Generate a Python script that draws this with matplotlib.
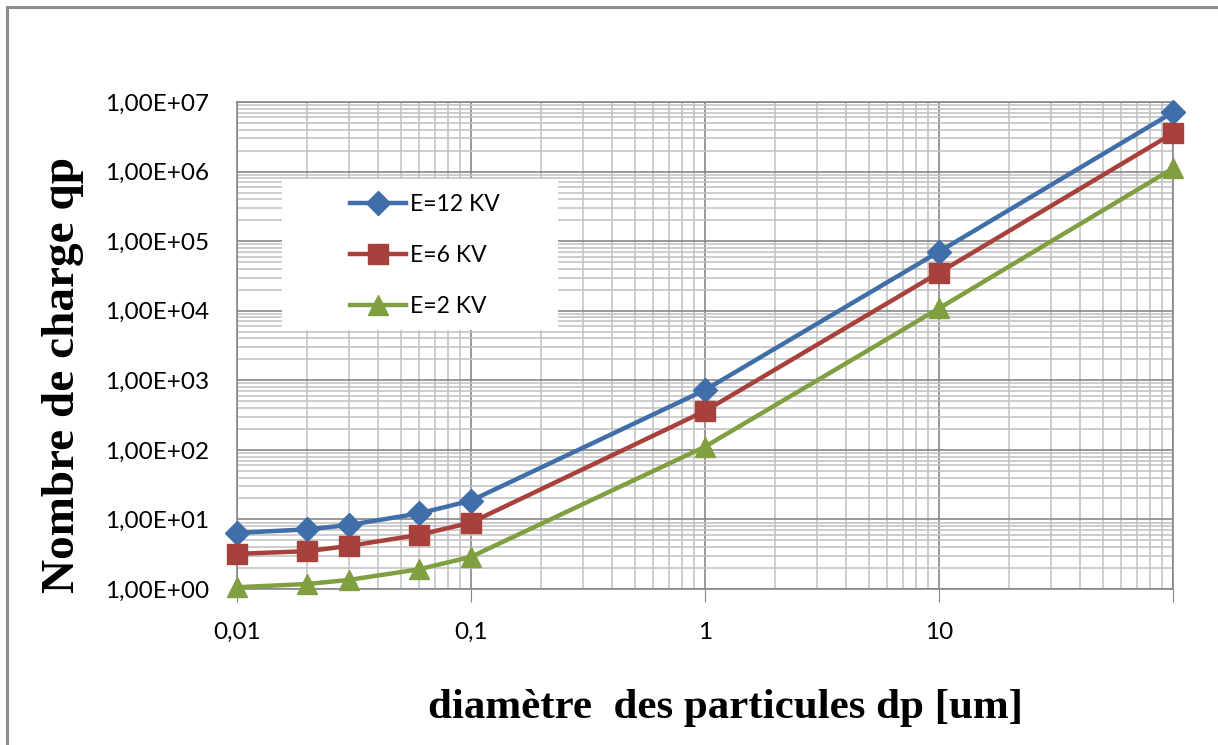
import numpy as np
import matplotlib.pyplot as plt
from matplotlib.patches import Rectangle
from matplotlib.ticker import FixedLocator, LogLocator, NullFormatter

# données
dp = [0.01, 0.02, 0.03, 0.06, 0.1, 1, 10, 100]
q_12kv = [6.4, 7.2, 8.3, 12.2, 18.6, 725, 70500, 7.1e6]
q_6kv = [3.2, 3.5, 4.15, 6.0, 9.0, 362, 35200, 3.55e6]
q_2kv = [1.06, 1.18, 1.35, 1.92, 2.9, 111, 10800, 1.11e6]
labels = ['E=12 KV', 'E=6 KV', 'E=2 KV']
xtick_vals = [0.01, 0.1, 1, 10, 100]
xtick_labels = ['0,01', '0,1', '1', '10', '']
ytick_vals = [1e0, 1e1, 1e2, 1e3, 1e4, 1e5, 1e6, 1e7]
ytick_labels = ['1,00E+%02d' % i for i in range(8)]

fig = plt.figure(figsize=(12.18, 7.45), dpi=100)
ax = fig.add_axes([237/1218, 1-589/745, 936/1218, 487/745])
ax.set_axisbelow(True)

# cadre du graphique
fig.patches.append(Rectangle((7/1218, -0.1), 1.2, (745-7)/745 + 0.1, transform=fig.transFigure,
                             fill=False, edgecolor='#8c8c8c', lw=2.2))

ax.set_xscale('log')
ax.set_yscale('log')
ax.set_xlim(0.01, 100)
ax.set_ylim(1, 1e7)

ax.grid(True, which='major', color='#878787', lw=1.2)
ax.grid(True, which='minor', color='#c0c0c0', lw=1.1)
ax.xaxis.set_major_locator(FixedLocator(xtick_vals))
ax.xaxis.set_minor_locator(LogLocator(base=10, subs=np.arange(2, 10)))
ax.yaxis.set_major_locator(FixedLocator(ytick_vals))
ax.yaxis.set_minor_locator(LogLocator(base=10, subs=np.arange(2, 10), numticks=20))
ax.xaxis.set_minor_formatter(NullFormatter())
ax.yaxis.set_minor_formatter(NullFormatter())
ax.set_xticklabels(xtick_labels)
ax.set_yticklabels(ytick_labels)
ax.tick_params(axis='x', which='major', direction='out', length=9, color='#878787',
               labelsize=17.5, pad=15)
ax.tick_params(axis='y', which='major', direction='out', length=0, labelsize=17.5, pad=20)
ax.tick_params(which='minor', length=0)
for lab in ax.get_xticklabels() + ax.get_yticklabels():
    lab.set_family('Lato')
for s in ax.spines.values():
    s.set_color('#878787')
    s.set_linewidth(1.2)

# fond blanc de la légende
ax.add_patch(Rectangle((45/936, (589-330)/487), 276/936, 151/487, transform=ax.transAxes,
                       facecolor='white', edgecolor='none', zorder=1))

colors = ['#3f6ea8', '#a8403c', '#7f9f41']
markers = ['D', 's', '^']
msizes = [12, 14, 14]
for ys, c, m, ms, lab in zip([q_12kv, q_6kv, q_2kv], colors, markers, msizes, labels):
    ax.plot(dp, ys, color=c, lw=3.2, marker=m, ms=ms, label=lab, zorder=3, clip_on=False)

leg = ax.legend(loc='upper left', bbox_to_anchor=((350-237)/936, (589-194)/487),
                frameon=False, borderpad=0, borderaxespad=0, handlelength=2.45,
                handletextpad=0.15, labelspacing=1.3, prop={'family': 'Lato', 'size': 16.5})

ax.set_xlabel('diamètre  des particules dp [um]', family='Liberation Serif',
              fontweight='bold', fontsize=31)
ax.set_ylabel('Nombre de charge qp', family='Liberation Serif', fontweight='bold',
              fontsize=34)
ax.yaxis.set_label_coords(-(237-84)/936, (589-375)/487)
ax.xaxis.set_label_coords((725-237)/936, -(689-589)/487)

fig.savefig('out.png', dpi=100)
